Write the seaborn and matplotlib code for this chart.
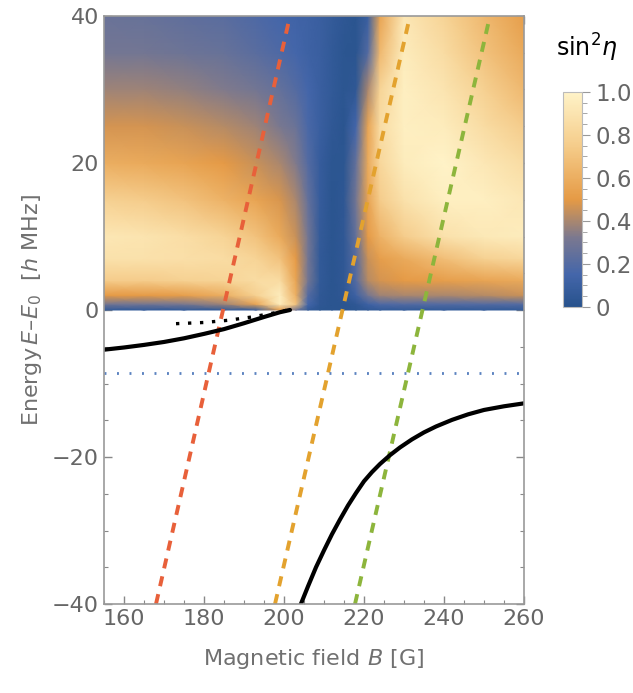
import matplotlib
matplotlib.use("Agg")

import numpy as np
import matplotlib.pyplot as plt
import seaborn as sns
from matplotlib.colors import LinearSegmentedColormap
from matplotlib.ticker import MultipleLocator

sns.set_theme(style="ticks")
plt.rcParams.update({
    "font.family": ["DejaVu Sans"],
    "mathtext.fontset": "dejavusans",
    "font.size": 14,
    "xtick.labelsize": 16,
    "ytick.labelsize": 16,
    "axes.labelsize": 16,
})

# sin^2(eta), on a coarse grid (rows = energy, cols = field)
field_grid = [155, 165, 175, 185, 193, 199, 203, 206, 209, 212, 215, 218, 221, 224, 230, 240, 250, 260]
energy_grid = [0, 0.8, 2, 4, 7, 10, 15, 20, 25, 30, 35, 40]
sin2eta = [
    [0.06, 0.06, 0.06, 0.06, 0.08, 0.50, 0.30, 0.06, 0.03, 0.02, 0.02, 0.03, 0.05, 0.06, 0.06, 0.06, 0.06, 0.06],
    [0.30, 0.30, 0.32, 0.38, 0.55, 0.95, 0.70, 0.15, 0.04, 0.02, 0.02, 0.05, 0.12, 0.18, 0.20, 0.20, 0.20, 0.20],
    [0.50, 0.50, 0.52, 0.60, 0.78, 0.95, 0.60, 0.20, 0.05, 0.02, 0.04, 0.12, 0.30, 0.38, 0.40, 0.40, 0.42, 0.45],
    [0.75, 0.75, 0.78, 0.80, 0.85, 0.85, 0.55, 0.30, 0.06, 0.02, 0.05, 0.20, 0.42, 0.47, 0.50, 0.52, 0.55, 0.58],
    [0.88, 0.88, 0.87, 0.85, 0.80, 0.70, 0.50, 0.30, 0.06, 0.02, 0.05, 0.20, 0.45, 0.52, 0.58, 0.68, 0.78, 0.82],
    [0.92, 0.90, 0.86, 0.80, 0.70, 0.58, 0.45, 0.30, 0.07, 0.02, 0.05, 0.25, 0.50, 0.62, 0.75, 0.88, 0.93, 0.95],
    [0.78, 0.75, 0.70, 0.62, 0.55, 0.48, 0.40, 0.25, 0.08, 0.02, 0.04, 0.30, 0.55, 0.75, 0.88, 0.97, 0.97, 0.92],
    [0.60, 0.58, 0.55, 0.50, 0.45, 0.40, 0.33, 0.20, 0.08, 0.03, 0.03, 0.25, 0.58, 0.82, 0.95, 1.00, 0.92, 0.85],
    [0.47, 0.47, 0.45, 0.42, 0.38, 0.32, 0.27, 0.17, 0.10, 0.05, 0.02, 0.15, 0.55, 0.85, 0.97, 0.95, 0.85, 0.75],
    [0.38, 0.38, 0.36, 0.33, 0.30, 0.25, 0.20, 0.15, 0.10, 0.06, 0.03, 0.05, 0.40, 0.80, 0.97, 0.90, 0.78, 0.65],
    [0.30, 0.30, 0.28, 0.26, 0.22, 0.18, 0.15, 0.12, 0.10, 0.06, 0.03, 0.02, 0.20, 0.65, 0.95, 0.85, 0.70, 0.58],
    [0.27, 0.26, 0.24, 0.22, 0.18, 0.15, 0.13, 0.12, 0.10, 0.07, 0.04, 0.02, 0.10, 0.55, 0.92, 0.80, 0.65, 0.52],
]

# straight dashed crossings (field at E = -40 and at E = +40)
line_E = [-40, 40]
red_B = [168.0, 201.5]
orange_B = [197.75, 231.5]
green_B = [217.75, 251.5]

# bound states (solid black)
left_B = [155, 160, 165, 170, 175, 180, 185, 190, 195, 199, 201.5]
left_E = [-5.4, -5.1, -4.75, -4.35, -3.85, -3.25, -2.6, -1.8, -0.95, -0.3, 0.0]
right_B = [204, 206, 208, 210, 212, 214, 216, 218, 220, 222, 224, 226.5, 229, 232,
           235, 238, 242, 246, 250, 255, 260]
right_E = [-40.3, -37.6, -35.0, -32.7, -30.5, -28.5, -26.6, -24.9, -23.3, -22.05, -20.95,
           -19.75, -18.7, -17.6, -16.65, -15.85, -14.95, -14.2, -13.6, -13.1, -12.7]

# dotted black approximation
dot_B = [173, 180, 186, 192, 199, 201]
dot_E = [-1.86, -1.7, -1.4, -0.95, -0.25, 0.0]

# dotted blue level
level_B = [155, 260]
level_E = [-8.6, -8.6]

cmap = LinearSegmentedColormap.from_list("sunset", [
    (0.00, "#27528c"),
    (0.15, "#4466aa"),
    (0.32, "#7a7890"),
    (0.50, "#e59a45"),
    (0.75, "#f5cc8a"),
    (1.00, "#fff3c8"),
])

fig = plt.figure(figsize=(6.33, 6.93), dpi=100)
ax = fig.add_axes([104 / 633, 89 / 693, 420 / 633, 588 / 693])

BB, EE = np.meshgrid(field_grid, energy_grid)
mesh = ax.pcolormesh(BB, EE, np.array(sin2eta), cmap=cmap, vmin=0, vmax=1,
                     shading="gouraud", rasterized=True)

dash = (0, (2.6, 2.1))
for xs, col in [(red_B, "#e8603a"), (orange_B, "#e3a22e"), (green_B, "#8db53c")]:
    sns.lineplot(x=xs, y=line_E, ax=ax, color=col, lw=2.8, linestyle=dash,
                 sort=False, estimator=None, dash_capstyle="butt")

sns.lineplot(x=level_B, y=level_E, ax=ax, color="#5b82c0", lw=2.0,
             linestyle=(0, (0.7, 3.8)), sort=False, estimator=None, dash_capstyle="butt")
sns.lineplot(x=dot_B, y=dot_E, ax=ax, color="black", lw=2.4,
             linestyle=(0, (1, 2.6)), sort=False, estimator=None, dash_capstyle="butt")
sns.lineplot(x=left_B, y=left_E, ax=ax, color="black", lw=3, sort=False, estimator=None)
sns.lineplot(x=right_B, y=right_E, ax=ax, color="black", lw=3, sort=False, estimator=None)

ax.set_xlim(155, 260)
ax.set_ylim(-40, 40)
ax.xaxis.set_major_locator(MultipleLocator(20))
ax.xaxis.set_minor_locator(MultipleLocator(5))
ax.yaxis.set_major_locator(MultipleLocator(20))
ax.yaxis.set_minor_locator(MultipleLocator(5))
ax.tick_params(which="both", direction="in", top=True, right=True, color="#888888",
               labelcolor="#666666")
ax.tick_params(which="major", length=6, width=1)
ax.tick_params(which="minor", length=3, width=0.8)
for sp in ax.spines.values():
    sp.set_color("#999999")
    sp.set_linewidth(1.2)

ax.set_xlabel("Magnetic field $B$ [G]", color="#707070", labelpad=13)
ax.set_ylabel(r"Energy$\,E$–$E_0$  [$h$ MHz]", color="#707070", labelpad=6)

cax = fig.add_axes([563 / 633, 386 / 693, 19 / 633, 215 / 693])
cb = fig.colorbar(mesh, cax=cax)
cb.set_ticks([0, 0.2, 0.4, 0.6, 0.8, 1.0])
cb.set_ticklabels(["0", "0.2", "0.4", "0.6", "0.8", "1.0"])
cb.ax.yaxis.set_minor_locator(MultipleLocator(0.05))
cb.ax.tick_params(which="both", color="#999999", labelcolor="#666666", labelsize=16.5)
cb.ax.tick_params(which="major", length=6, width=0.8, pad=4)
cb.ax.tick_params(which="minor", length=3.5, width=0.6)
cb.outline.set_edgecolor("#bbbbbb")
cb.outline.set_linewidth(0.8)
fig.text(556 / 633, 1 - 48 / 693, r"sin$^2\eta$", fontsize=17, color="black",
         va="center", ha="left")

fig.savefig("out.png", dpi=100)
